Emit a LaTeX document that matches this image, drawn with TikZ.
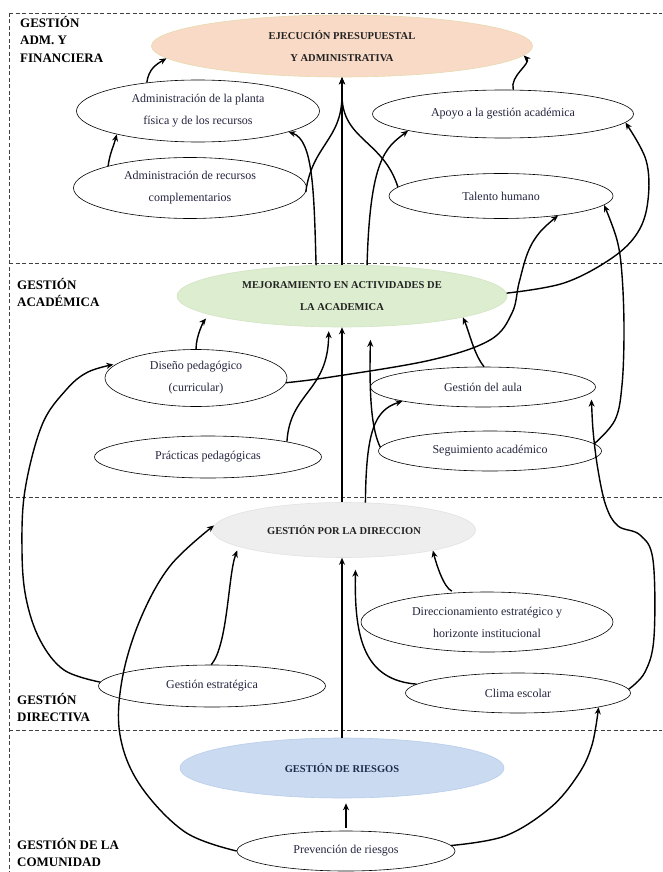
\documentclass[tikz,border=0pt]{standalone}
\usepackage{fontspec}
\setmainfont{Liberation Serif}
\usetikzlibrary{shapes.geometric,arrows.meta}
\definecolor{txtc}{HTML}{25253F}
\definecolor{ttlc}{HTML}{222222}
\definecolor{ejecfill}{HTML}{F9DAC6}
\definecolor{ejecdraw}{HTML}{E6DAAE}
\definecolor{mejfill}{HTML}{DDEDD0}
\definecolor{mejdraw}{HTML}{D2E5C2}
\definecolor{gpdfill}{HTML}{EEEEEE}
\definecolor{gpddraw}{HTML}{E2E2E2}
\definecolor{riesfill}{HTML}{C9DAF1}
\definecolor{riesdraw}{HTML}{B9CDEA}
\definecolor{riestxt}{HTML}{1F2D4D}
\tikzset{
  ell/.style={ellipse, draw=black, line width=0.6pt, fill=white, inner sep=0pt,
    text=txtc, align=center, font=\fontsize{12}{22}\selectfont},
  ttl/.style={ellipse, line width=0.6pt, inner sep=0pt, text=ttlc, align=center,
    font=\bfseries\fontsize{10.5}{22}\selectfont},
  lab/.style={anchor=north west, inner sep=0pt, align=left,
    font=\bfseries\fontsize{13}{17.5}\selectfont},
  con/.style={line width=1.4pt, -{Stealth[length=7pt,width=6pt]}},
  dashline/.style={line width=0.8pt, dash pattern=on 4pt off 2.5pt, black!75}
}
\begin{document}
\begin{tikzpicture}[x=1pt,y=-1pt]
\useasboundingbox (0,0) rectangle (662,872);
\fill[white] (0,0) rectangle (662,872);

% zone separators
\draw[dashline] (9,13) -- (662,13);
\draw[dashline] (9,263) -- (662,263);
\draw[dashline] (9,497) -- (662,497);
\draw[dashline] (9,730) -- (662,730);
\draw[dashline] (9,13) -- (9,872);

% zone labels
\node[lab] (labA) at (20,16) {GESTIÓN\\ADM. Y\\FINANCIERA};
\node[lab] (labB) at (17,278) {GESTIÓN\\ACADÉMICA};
\node[lab] (labC) at (17,693) {GESTIÓN\\DIRECTIVA};
\node[lab] (labD) at (17,838) {GESTIÓN DE LA\\COMUNIDAD};

% main ellipses
\node[ttl, fill=ejecfill, draw=ejecdraw, minimum width=381pt, minimum height=62pt] (EJEC) at (342,46) {EJECUCIÓN PRESUPUESTAL\\Y ADMINISTRATIVA};
\node[ttl, fill=mejfill, draw=mejdraw, minimum width=330pt, minimum height=62pt] (MEJ) at (342,296) {MEJORAMIENTO EN ACTIVIDADES DE\\LA ACADEMICA};
\node[ttl, fill=gpdfill, draw=gpddraw, minimum width=263pt, minimum height=55pt] (GPD) at (344,530) {GESTIÓN POR LA DIRECCION};
\node[ttl, fill=riesfill, draw=riesdraw, text=riestxt, minimum width=324pt, minimum height=60pt] (RIES) at (342,768) {GESTIÓN DE RIESGOS};

% secondary ellipses
\node[ell, minimum width=243pt, minimum height=62pt] (planta) at (198,111) {Administración de la planta\\física y de los recursos};
\node[ell, minimum width=233pt, minimum height=61pt] (recursos) at (190,188) {Administración de recursos\\complementarios};
\node[ell, minimum width=261pt, minimum height=48pt] (apoyo) at (503,114) {Apoyo a la gestión académica};
\node[ell, minimum width=224pt, minimum height=45pt] (talento) at (501,196) {Talento humano};
\node[ell, minimum width=182pt, minimum height=57pt] (diseno) at (196,378) {Diseño pedagógico\\(curricular)};
\node[ell, minimum width=227pt, minimum height=42pt] (practicas) at (208,457) {Prácticas pedagógicas};
\node[ell, minimum width=225pt, minimum height=40pt] (aula) at (483,387) {Gestión del aula};
\node[ell, minimum width=223pt, minimum height=40pt] (seguim) at (490,451) {Seguimiento académico};
\node[ell, minimum width=252pt, minimum height=60pt] (direc) at (487,622) {Direccionamiento estratégico y\\horizonte institucional};
\node[ell, minimum width=227pt, minimum height=42pt] (GE) at (212,686) {Gestión estratégica};
\node[ell, minimum width=225pt, minimum height=40pt] (clima) at (518,693) {Clima escolar};
\node[ell, minimum width=218pt, minimum height=40pt] (prev) at (346,851) {Prevención de riesgos};

% --- connectors: administrative band
\draw[con] (planta.151) .. controls +(2,-14) and +(-10,6) .. (EJEC.184);
\draw[con] (recursos.165) .. controls +(2,-14) and +(-3,12) .. (planta.196);
\draw[con] (MEJ.130) .. controls (314,190) and (313,140) .. (planta.347);
\draw[con] (recursos.358) .. controls (312,145) and (342,140) .. (342,95) -- (EJEC.south);
\draw[con] (talento.175) .. controls (383,140) and (342,140) .. (342,95) -- (EJEC.south);
\draw[con] (MEJ.north) -- (EJEC.south);
\draw[con] (MEJ.51) .. controls (370,160) and (385,148) .. (apoyo.190);
\draw[con] (apoyo.67) .. controls +(-4,-14) and +(8,8) .. (EJEC.-3);
\draw[con] plot[smooth, tension=0.6] coordinates {(MEJ.1) (564,283) (612,258) (638,232) (648,200) (646,160) (apoyo.-4)};
\draw[con] plot[smooth, tension=0.6] coordinates {(seguim.4) (615,420) (622,385) (624,330) (622,275) (617,240) (talento.-5)};
\draw[con] plot[smooth, tension=0.6] coordinates {(diseno.-3) (331,377) (431,360) (490,340) (512,313) (519,283) (528,252) (540,232) (talento.-19)};

% --- academic band
\draw[con, shorten >=5pt] (diseno.north) .. controls +(0,-14) and +(-5,6) .. (MEJ.188);
\draw[con, shorten >=4pt] (practicas.11) .. controls (290,392) and (328,392) .. (MEJ.-113);
\draw[con] (MEJ.south |- GPD.north) -- (MEJ.south);
\draw[con] (aula.87) .. controls +(-10,-12) and +(6,14) .. (MEJ.-10);
\draw[con, shorten >=13pt] (seguim.178) .. controls (372,430) and (369,400) .. (MEJ.-47);
\draw[con] (GPD.52) .. controls (366,430) and (375,410) .. (aula.190);
\draw[con, shorten >=7pt] plot[smooth, tension=0.6] coordinates {(clima.2) (645,672) (654,637) (653,560) (640,535) (618,526) (606,506) (598,470) (593,430) (aula.-3)};
\draw[con, shorten >=3pt] plot[smooth, tension=0.6] coordinates {(GE.178) (64,670) (40,640) (26,598) (22,550) (25,490) (42,425) (66,390) (88,372) (diseno.170)};

% --- directive band
\draw[con, shorten >=4pt] (GE.92) .. controls (228,645) and (228,575) .. (GPD.189);
\draw[con, shorten >=12pt] (clima.175) .. controls (365,680) and (354,640) .. (GPD.-67);
\draw[con, shorten <=4pt] (direc.137) .. controls +(-12,-5) and +(3,12) .. (GPD.-13);
\draw[con] (RIES.north) -- (RIES.north |- GPD.south);
\draw[con] plot[smooth, tension=0.6] coordinates {(prev.west) (185,832) (140,785) (120,735) (122,680) (140,620) (170,566) (GPD.178)};
\draw[con] plot[smooth, tension=0.6] coordinates {(prev.3) (505,836) (550,808) (578,775) (592,745) (clima.-10)};

% --- community band
\draw[con, shorten <=3pt, shorten >=5pt] (prev.north) -- (prev.north |- RIES.south);
\end{tikzpicture}
\end{document}
